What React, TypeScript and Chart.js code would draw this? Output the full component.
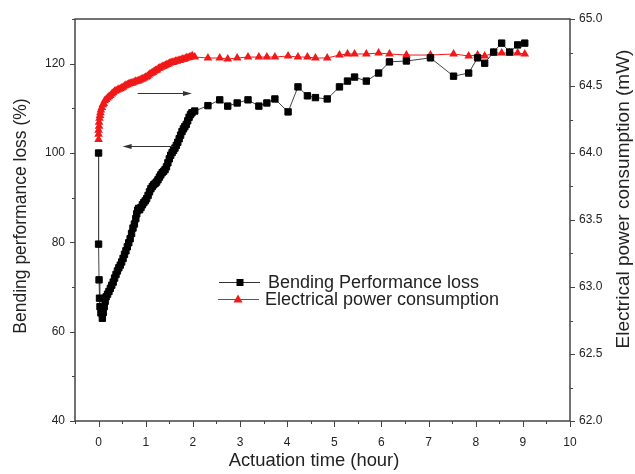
import React, { useEffect, useRef } from 'react';
import { Chart, registerables } from 'chart.js';

Chart.register(...registerables);

// ---- Data ----
const lossHours = [
  0, 0, 0.01, 0.02, 0.03, 0.05, 0.08, 0.1, 0.12, 0.14, 0.16, 0.19, 0.22, 0.25, 0.28, 0.31, 0.34, 0.37,
  0.4, 0.43, 0.46, 0.49, 0.52, 0.55, 0.58, 0.61, 0.64, 0.67, 0.7, 0.73, 0.76, 0.79, 0.81, 0.83, 0.85,
  0.87, 0.9, 0.93, 0.96, 0.99, 1.02, 1.05, 1.08, 1.11, 1.14, 1.17, 1.2, 1.23, 1.26, 1.29, 1.32, 1.35,
  1.38, 1.41, 1.44, 1.47, 1.5, 1.53, 1.56, 1.59, 1.62, 1.65, 1.68, 1.71, 1.74, 1.77, 1.8, 1.83, 1.86,
  1.89, 1.92, 1.95, 1.98, 2.04, 2.32, 2.57, 2.74, 2.94, 3.17, 3.4, 3.57, 3.74, 4.02, 4.23, 4.43, 4.6,
  4.85, 5.11, 5.28, 5.43, 5.68, 5.94, 6.17, 6.53, 7.04, 7.53, 7.85, 8.04, 8.19, 8.38, 8.55, 8.72, 8.89, 9.04,
];
const lossValues = [
  100, 79.6, 71.6, 67.5, 65.6, 64.2, 63.0, 64.3, 65.6, 66.8, 67.8, 68.4, 69.0, 69.7, 70.4, 71.1, 72.0, 72.8,
  73.6, 74.3, 74.9, 75.6, 76.4, 77.3, 78.1, 79.0, 79.9, 80.8, 82.0, 83.2, 84.1, 85.3, 86.4, 87.2, 87.6,
  87.3, 87.8, 88.4, 88.9, 89.3, 89.8, 90.5, 91.3, 92.0, 92.5, 92.9, 93.2, 93.5, 94.0, 94.6, 95.1, 95.6,
  95.9, 96.3, 96.9, 97.8, 98.7, 99.5, 100.1, 100.6, 101.1, 101.7, 102.4, 103.2, 104.0, 104.8, 105.4, 105.9, 106.4,
  107.2, 108.0, 108.6, 109.0, 109.4, 110.6, 111.9, 110.5, 111.2, 111.9, 110.5, 111.2, 112.1, 109.2, 114.8, 112.8, 112.4,
  112.1, 114.8, 116.1, 117.0, 116.1, 117.9, 120.4, 120.6, 121.3, 117.2, 117.9, 121.3, 120.1, 122.6, 124.6, 122.6, 124.2, 124.6,
];

const powerHours = [
  0, 0, 0, 0.01, 0.01, 0.02, 0.03, 0.04, 0.05, 0.07, 0.09, 0.11, 0.13, 0.16, 0.19, 0.22, 0.25, 0.28,
  0.31, 0.34, 0.37, 0.4, 0.43, 0.46, 0.49, 0.52, 0.55, 0.58, 0.61, 0.64, 0.67, 0.7, 0.73, 0.76, 0.79,
  0.82, 0.85, 0.88, 0.91, 0.94, 0.97, 1.0, 1.03, 1.06, 1.09, 1.12, 1.15, 1.18, 1.21, 1.24, 1.27, 1.3,
  1.33, 1.36, 1.39, 1.42, 1.45, 1.48, 1.51, 1.54, 1.57, 1.6, 1.63, 1.66, 1.69, 1.72, 1.75, 1.78, 1.81,
  1.84, 1.87, 1.9, 1.93, 1.96, 1.99, 2.04, 2.32, 2.57, 2.74, 2.94, 3.17, 3.4, 3.57, 3.74, 4.02, 4.23,
  4.43, 4.6, 4.85, 5.11, 5.28, 5.43, 5.68, 5.94, 6.17, 6.53, 7.04, 7.53, 7.85, 8.04, 8.19, 8.38, 8.55,
  8.72, 8.89, 9.04,
];
const powerValues = [
  64.1, 64.14, 64.17, 64.2, 64.23, 64.26, 64.28, 64.3, 64.32, 64.34, 64.36, 64.37, 64.39, 64.4, 64.41, 64.42, 64.43, 64.44,
  64.45, 64.46, 64.465, 64.47, 64.475, 64.48, 64.485, 64.49, 64.5, 64.505, 64.51, 64.515, 64.52, 64.52, 64.525, 64.53, 64.535,
  64.535, 64.54, 64.545, 64.55, 64.555, 64.56, 64.565, 64.57, 64.58, 64.59, 64.595, 64.6, 64.61, 64.615, 64.62, 64.63, 64.635,
  64.64, 64.645, 64.65, 64.655, 64.66, 64.665, 64.67, 64.675, 64.675, 64.68, 64.685, 64.685, 64.69, 64.69, 64.695, 64.7, 64.7,
  64.705, 64.71, 64.71, 64.715, 64.72, 64.725, 64.716, 64.709, 64.709, 64.701, 64.709, 64.716, 64.716, 64.716, 64.716, 64.724, 64.716,
  64.716, 64.709, 64.709, 64.731, 64.739, 64.739, 64.739, 64.746, 64.739, 64.731, 64.731, 64.739, 64.724, 64.731, 64.724, 64.746, 64.746,
  64.746, 64.746, 64.739,
];

const xTickLabels = [0, 1, 2, 3, 4, 5, 6, 7, 8, 9, 10];
const leftTickLabels = [40, 60, 80, 100, 120];
const rightTickLabels = [62.0, 62.5, 63.0, 63.5, 64.0, 64.5, 65.0];

const seriesNames = ['Bending Performance loss', 'Electrical power consumption'];
const axisTitles = {
  x: 'Actuation time (hour)',
  left: 'Bending performance loss (%)',
  right: 'Electrical power consumption (mW)',
};

// Arrows in data units: [fromHour, toHour, value, axisId]
const arrows: [number, number, number, string][] = [
  [0.83, 1.98, 64.45, 'y1'],
  [1.59, 0.51, 101.6, 'y'],
];

const FONT = "'Liberation Sans', Arial, sans-serif";
const TEXT = '#222';
const BLACK = '#000';
const RED = '#f01818';

const near = (a: number, b: number) => Math.abs(a - b) < 1e-6;

const decorPlugin = {
  id: 'decor',
  afterDraw(chart: any) {
    const { ctx, chartArea: a, scales } = chart;
    const xs = scales.x, ys = scales.y, y1s = scales.y1;
    ctx.save();

    // frame
    ctx.strokeStyle = '#444';
    ctx.lineWidth = 1.5;
    ctx.strokeRect(a.left, a.top, a.right - a.left, a.bottom - a.top);

    // ticks
    ctx.lineWidth = 1;
    ctx.strokeStyle = '#444';
    ctx.beginPath();
    xs.ticks.forEach((t: any) => {
      const p = Math.round(xs.getPixelForValue(t.value)) + 0.5;
      const major = xTickLabels.some((v) => near(v, t.value));
      ctx.moveTo(p, a.bottom);
      ctx.lineTo(p, a.bottom + (major ? 6 : 3));
    });
    ys.ticks.forEach((t: any) => {
      const p = Math.round(ys.getPixelForValue(t.value)) + 0.5;
      const major = leftTickLabels.some((v) => near(v, t.value));
      ctx.moveTo(a.left, p);
      ctx.lineTo(a.left - (major ? 5 : 3), p);
    });
    y1s.ticks.forEach((t: any) => {
      const p = Math.round(y1s.getPixelForValue(t.value)) + 0.5;
      const major = rightTickLabels.some((v) => near(v, t.value));
      ctx.moveTo(a.right, p);
      ctx.lineTo(a.right + (major ? 5 : 3), p);
    });
    ctx.stroke();

    // arrows
    ctx.strokeStyle = '#333';
    ctx.fillStyle = '#333';
    arrows.forEach(([h0, h1, v, axis]) => {
      const sc = scales[axis];
      const py = Math.round(sc.getPixelForValue(v)) + 0.5;
      const px0 = xs.getPixelForValue(h0);
      const px1 = xs.getPixelForValue(h1);
      const dir = px1 > px0 ? 1 : -1;
      ctx.beginPath();
      ctx.moveTo(px0, py);
      ctx.lineTo(px1 - dir * 6, py);
      ctx.stroke();
      ctx.beginPath();
      ctx.moveTo(px1, py);
      ctx.lineTo(px1 - dir * 9, py - 2.5);
      ctx.lineTo(px1 - dir * 9, py + 2.5);
      ctx.closePath();
      ctx.fill();
    });

    // legend
    const rows = [
      { y: 282, x0: 219, x1: 260, mx: 240, tx: 268, color: '#333', mark: 'rect', fill: BLACK },
      { y: 299, x0: 218, x1: 259, mx: 238, tx: 265, color: RED, mark: 'tri', fill: RED },
    ];
    ctx.font = `18px ${FONT}`;
    ctx.textBaseline = 'middle';
    ctx.textAlign = 'left';
    rows.forEach((r, i) => {
      ctx.strokeStyle = r.color;
      ctx.lineWidth = 1;
      ctx.beginPath();
      ctx.moveTo(r.x0, r.y + 0.5);
      ctx.lineTo(r.x1, r.y + 0.5);
      ctx.stroke();
      ctx.fillStyle = r.fill;
      if (r.mark === 'rect') {
        ctx.fillRect(r.mx - 3.5, r.y - 3, 7, 7);
      } else {
        ctx.beginPath();
        ctx.moveTo(r.mx, r.y - 4.5);
        ctx.lineTo(r.mx + 4.5, r.y + 3.5);
        ctx.lineTo(r.mx - 4.5, r.y + 3.5);
        ctx.closePath();
        ctx.fill();
      }
      ctx.fillStyle = TEXT;
      ctx.fillText(seriesNames[i], r.tx, r.y + 1);
    });

    // axis titles
    ctx.fillStyle = TEXT;
    ctx.textAlign = 'center';
    ctx.font = `18.4px ${FONT}`;
    ctx.fillText(axisTitles.x, 314, 461);

    ctx.save();
    ctx.translate(21, 216);
    ctx.rotate(-Math.PI / 2);
    ctx.font = `17.5px ${FONT}`;
    ctx.fillText(axisTitles.left, 0, 0);
    ctx.restore();

    ctx.save();
    ctx.translate(624, 199);
    ctx.rotate(-Math.PI / 2);
    ctx.font = `19px ${FONT}`;
    ctx.fillText(axisTitles.right, 0, 0);
    ctx.restore();

    ctx.restore();
  },
};

export default function App() {
  const ref = useRef<HTMLCanvasElement>(null);

  useEffect(() => {
    document.body.style.margin = '0';
    const canvas = ref.current;
    if (!canvas) return;

    const tickFont = { family: FONT, size: 12 };
    const chart = new Chart(canvas, {
      type: 'scatter',
      data: {
        datasets: [
          {
            label: seriesNames[0],
            data: lossHours.map((h, i) => ({ x: h, y: lossValues[i] })),
            yAxisID: 'y',
            showLine: true,
            borderColor: '#444',
            borderWidth: 1,
            backgroundColor: BLACK,
            pointStyle: 'rect',
            pointRadius: 4.5,
            pointBorderWidth: 1,
            pointBorderColor: BLACK,
            pointBackgroundColor: BLACK,
          },
          {
            label: seriesNames[1],
            data: powerHours.map((h, i) => ({ x: h, y: powerValues[i] })),
            yAxisID: 'y1',
            showLine: true,
            borderColor: RED,
            borderWidth: 1,
            backgroundColor: RED,
            pointStyle: 'triangle',
            pointRadius: 5,
            pointBorderWidth: 0,
            pointBackgroundColor: RED,
          },
        ],
      },
      options: {
        responsive: false,
        animation: false,
        devicePixelRatio: 1,
        layout: { padding: { top: 19, left: 0, right: 0, bottom: 0 } },
        plugins: { legend: { display: false }, tooltip: { enabled: false } },
        scales: {
          x: {
            type: 'linear',
            min: -0.5,
            max: 10,
            afterFit: (s: any) => { s.height = 53; },
            grid: { drawOnChartArea: false, color: 'rgba(0,0,0,0)', tickLength: 6 },
            border: { display: false },
            ticks: {
              stepSize: 0.5,
              autoSkip: false,
              maxRotation: 0,
              padding: 8,
              color: TEXT,
              font: tickFont,
              callback: (v: any) => (xTickLabels.some((t) => near(t, Number(v))) ? String(Math.round(Number(v))) : ''),
            },
          },
          y: {
            type: 'linear',
            position: 'left',
            min: 40,
            max: 130,
            afterFit: (s: any) => { s.width = 75; },
            grid: { drawOnChartArea: false, color: 'rgba(0,0,0,0)', tickLength: 6 },
            border: { display: false },
            ticks: {
              stepSize: 10,
              autoSkip: false,
              padding: 4,
              color: TEXT,
              font: tickFont,
              callback: (v: any) => (leftTickLabels.some((t) => near(t, Number(v))) ? String(Math.round(Number(v))) : ''),
            },
          },
          y1: {
            type: 'linear',
            position: 'right',
            min: 62,
            max: 65,
            afterFit: (s: any) => { s.width = 65; },
            grid: { drawOnChartArea: false, color: 'rgba(0,0,0,0)', tickLength: 5 },
            border: { display: false },
            ticks: {
              stepSize: 0.25,
              autoSkip: false,
              padding: 4,
              color: TEXT,
              font: tickFont,
              callback: (v: any) => (rightTickLabels.some((t) => near(t, Number(v))) ? Number(v).toFixed(1) : ''),
            },
          },
        },
      },
      plugins: [decorPlugin],
    });

    return () => chart.destroy();
  }, []);

  return (
    <div style={{ width: 635, height: 474 }}>
      <canvas ref={ref} width={635} height={474} style={{ display: 'block' }} />
    </div>
  );
}
